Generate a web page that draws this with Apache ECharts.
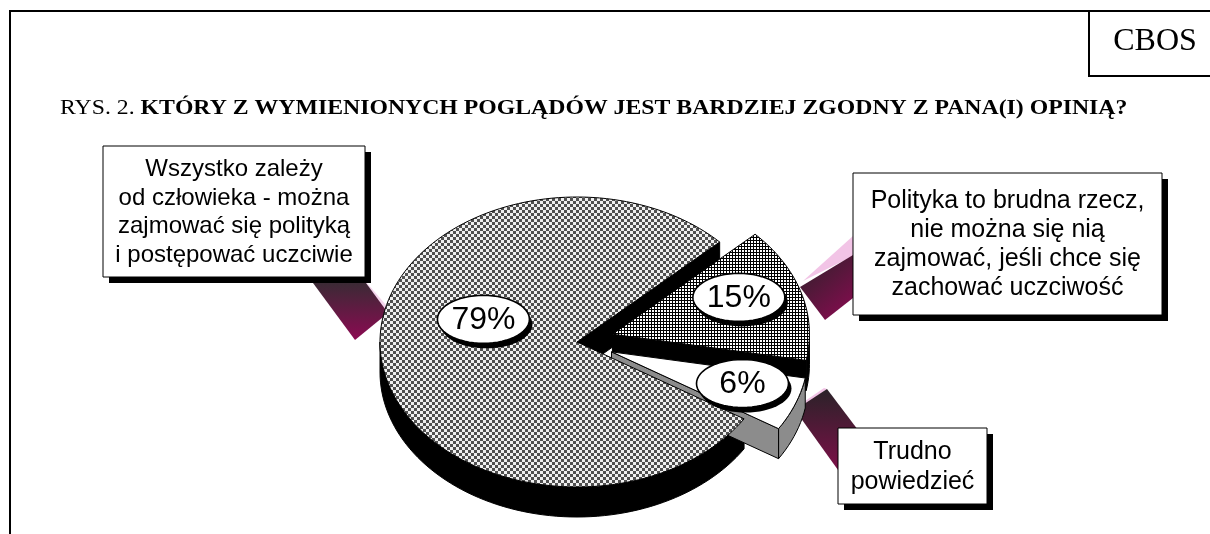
<!DOCTYPE html>
<html lang="pl">
<head>
<meta charset="utf-8">
<title>CBOS - Rys. 2</title>
<script src="https://cdn.jsdelivr.net/npm/echarts@6/dist/echarts.min.js"></script>
<style>
  html, body { margin: 0; padding: 0; background: #fff; }
  #container { width: 1210px; height: 534px; }
</style>
</head>
<body>
<div id="container"></div>
<script>
// dane z rysunku
var categories = [
  'Wszystko zależy\nod człowieka - można\nzajmować się polityką\ni postępować uczciwie',
  'Polityka to brudna rzecz,\nnie można się nią\nzajmować, jeśli chce się\nzachować uczciwość',
  'Trudno\npowiedzieć'
];
var values = [79, 15, 6];
var valueLabels = ['79%', '15%', '6%'];
var exploded = [false, true, true];

// wyglad
var pie = { cx: 577, cy: 342, rx: 197, ry: 145, depth: 30, startAngle: -32, explode: 37 };
var sideColors = ['#000000', '#000000', '#8c8c8c'];
var labelPlace = [{ r: 0.5, shift: -24 }, { r: 0.69, shift: 5 }, { r: 0.7, shift: 3 }];
var SANS = '"Liberation Sans", Arial, sans-serif';
var SERIF = '"Liberation Serif", "Times New Roman", serif';

function makePattern(size, draw) {
  var c = document.createElement('canvas');
  c.width = c.height = size;
  draw(c.getContext('2d'));
  return { image: c, repeat: 'repeat' };
}
var checker = makePattern(6, function (g) {
  g.fillStyle = '#f0f0f0'; g.fillRect(0, 0, 6, 6);
  g.fillStyle = '#505050'; g.fillRect(0, 0, 3, 3); g.fillRect(3, 3, 3, 3);
});
var grid = makePattern(3, function (g) {
  g.fillStyle = '#ffffff'; g.fillRect(0, 0, 3, 3);
  g.fillStyle = '#000000'; g.fillRect(0, 0, 3, 1); g.fillRect(0, 0, 1, 3);
});
var faceFills = [checker, grid, '#ffffff'];

// katy wycinkow (zgodnie z ruchem wskazowek zegara od startAngle)
var total = values.reduce(function (a, b) { return a + b; }, 0);
var slices = [];
var acc = 0;
values.forEach(function (v, i) {
  var hi = pie.startAngle - acc / total * 360;
  var lo = hi - v / total * 360;
  acc += v;
  var mid = (hi + lo) / 2 * Math.PI / 180;
  var e = exploded[i] ? pie.explode : 0;
  slices.push({
    lo: lo, hi: hi, mid: mid,
    ox: e * Math.cos(mid),
    oy: -e * Math.sin(mid) * pie.ry / pie.rx
  });
});

function pt(s, deg, k, dy) {
  var a = deg * Math.PI / 180;
  return [pie.cx + s.ox + k * pie.rx * Math.cos(a), pie.cy + s.oy - k * pie.ry * Math.sin(a) + (dy || 0)];
}
function arc(s, a, b, dy) {
  var pts = [], n = Math.max(2, Math.ceil(Math.abs(b - a) / 2));
  for (var j = 0; j <= n; j++) pts.push(pt(s, a + (b - a) * j / n, 1, dy));
  return pts;
}

function renderItem(params, api) {
  var i = params.dataIndex;
  var s = slices[i];
  var d = pie.depth;
  var apex = [pie.cx + s.ox, pie.cy + s.oy];
  var wallZ = i * 10;
  var topZ = exploded[i] ? wallZ + 1 : 40;
  var side = { fill: sideColors[i], stroke: '#000', lineWidth: 1 };
  var children = [];

  // sciana zewnetrzna - tylko przednia czesc
  for (var k = -2; k <= 1; k++) {
    var a = Math.max(s.lo, -180 + 360 * k), b = Math.min(s.hi, 360 * k);
    if (a < b) {
      var top = arc(s, a, b, 0), bot = arc(s, b, a, d);
      children.push({ type: 'polygon', z2: wallZ, shape: { points: top.concat(bot) }, style: side });
    }
  }
  // sciany ciecia widoczne od przodu
  [[s.lo, Math.cos(s.lo * Math.PI / 180) > 0], [s.hi, Math.cos(s.hi * Math.PI / 180) < 0]].forEach(function (e) {
    if (!e[1]) return;
    var r = pt(s, e[0], 1, 0);
    children.push({
      type: 'polygon', z2: wallZ,
      shape: { points: [apex, r, [r[0], r[1] + d], [apex[0], apex[1] + d]] },
      style: side
    });
  });
  // gorna powierzchnia
  children.push({
    type: 'polygon', z2: topZ,
    shape: { points: [apex].concat(arc(s, s.lo, s.hi, 0)) },
    style: { fill: faceFills[i], stroke: '#000', lineWidth: 1 }
  });

  // etykieta w elipsie
  var lp = labelPlace[i];
  var c = pt(s, s.mid * 180 / Math.PI + lp.shift, lp.r, 0);
  function ell(dx, dy) {
    var p = [];
    for (var j = 0; j < 60; j++) {
      var t = j / 60 * Math.PI * 2;
      p.push([c[0] + dx + 46 * Math.cos(t), c[1] + dy + 24 * Math.sin(t)]);
    }
    return p;
  }
  children.push({ type: 'polygon', z2: 50, shape: { points: ell(3, 5) }, style: { fill: '#000' } });
  children.push({ type: 'polygon', z2: 51, shape: { points: ell(0, 0) }, style: { fill: '#fff', stroke: '#000', lineWidth: 1.6 } });
  children.push({
    type: 'text', z2: 52,
    style: { text: valueLabels[i], x: c[0], y: c[1] + 1, align: 'center', verticalAlign: 'middle', font: '32px ' + SANS, fill: '#000' }
  });
  return { type: 'group', children: children };
}

// ramki z opisami
function calloutBox(x, y, w, h, text, fs, lh) {
  return [
    { type: 'rect', z: 10, shape: { x: x + 6, y: y + 6, width: w, height: h }, style: { fill: '#000' } },
    { type: 'rect', z: 10, shape: { x: x, y: y, width: w, height: h }, style: { fill: '#fff', stroke: '#000', lineWidth: 1 } },
    {
      type: 'text', z: 11,
      style: { text: text, x: x + w / 2, y: y + h / 2 + 1, align: 'center', verticalAlign: 'middle', font: fs + 'px ' + SANS, lineHeight: lh, fill: '#000' }
    }
  ];
}
function pointer(points, dir, c1, c2) {
  return {
    type: 'polygon', z: 1, shape: { points: points },
    style: { fill: { type: 'linear', x: dir[0], y: dir[1], x2: dir[2], y2: dir[3], colorStops: [{ offset: 0, color: c1 }, { offset: 1, color: c2 }] } }
  };
}

var graphics = [
  { type: 'polyline', shape: { points: [[10, 534], [10, 11], [1210, 11]] }, style: { stroke: '#000', lineWidth: 2, fill: null } },
  { type: 'polyline', shape: { points: [[1089, 11], [1089, 76], [1210, 76]] }, style: { stroke: '#000', lineWidth: 2, fill: null } },
  { type: 'text', style: { text: 'CBOS', x: 1155, y: 42, align: 'center', verticalAlign: 'middle', font: '32px ' + SERIF, fill: '#000' } },
  {
    type: 'text', x: 60, y: 108, scaleX: 1.08,
    style: {
      text: '{n|RYS. 2. }{b|KTÓRY Z WYMIENIONYCH POGLĄDÓW JEST BARDZIEJ ZGODNY Z PANA(I) OPINIĄ?}',
      x: 0, y: 0, verticalAlign: 'middle',
      rich: {
        n: { fontFamily: SERIF, fontSize: 22, fontWeight: 'normal', fill: '#000' },
        b: { fontFamily: SERIF, fontSize: 22, fontWeight: 'bold', fill: '#000' }
      }
    }
  },
  // wskazniki
  { type: 'polygon', z: 1, shape: { points: [[367, 283], [392, 312], [388, 316], [362, 283]] }, style: { fill: '#f4d4ec' } },
  pointer([[313, 283], [366, 283], [388, 313], [355, 340]], [0, 0, 0, 1], '#3b2a35', '#8c0a52'),
  { type: 'polygon', z: 1, shape: { points: [[803, 281], [853, 236], [853, 256]] }, style: { fill: '#f2c4e6' } },
  pointer([[800, 287], [853, 255], [853, 298], [825, 320]], [0, 0, 1, 1], '#2a2228', '#8c0a52'),
  { type: 'polygon', z: 1, shape: { points: [[792, 410], [824, 388], [827, 389], [795, 412]] }, style: { fill: '#f2c4e6' } },
  pointer([[795, 410], [827, 389], [858, 430], [838, 470]], [0, 0, 0, 1], '#2a2228', '#7c1048')
]
  .concat(calloutBox(103, 146, 262, 131, categories[0], 24, 28.5))
  .concat(calloutBox(853, 173, 309, 142, categories[1], 25, 29))
  .concat(calloutBox(838, 428, 149, 76, categories[2], 25, 30));

var myChart = echarts.init(document.getElementById('container'));
var option = {
  animation: false,
  backgroundColor: '#ffffff',
  graphic: graphics,
  series: [{
    type: 'custom',
    coordinateSystem: 'none',
    z: 2,
    data: values,
    renderItem: renderItem
  }]
};
myChart.setOption(option);
</script>
</body>
</html>
